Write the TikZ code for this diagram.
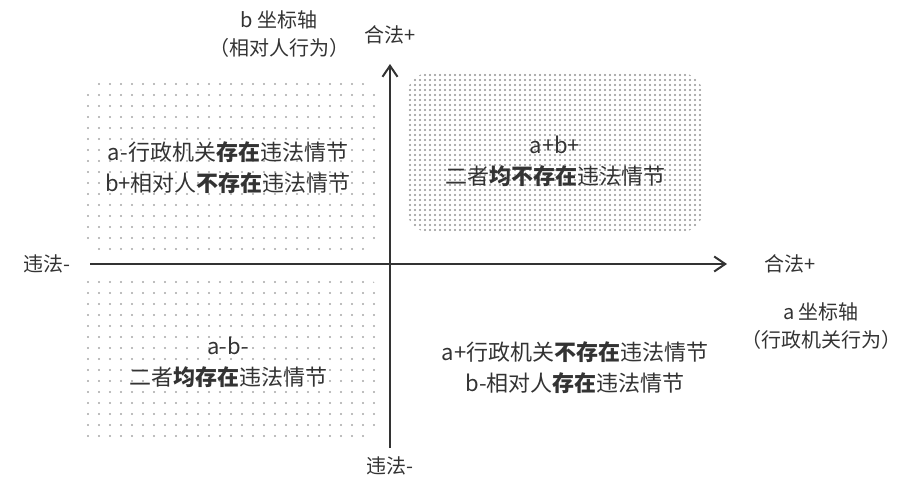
\documentclass[tikz,border=0pt]{standalone}
\usepackage{fontspec}
\setmainfont{Noto Sans CJK SC}
\usetikzlibrary{arrows.meta,patterns.meta}
\definecolor{ink}{HTML}{333333}
\tikzset{
  lbl/.style={text=ink,font=\fontsize{22}{31}\selectfont,align=center,inner sep=0pt},
  axlbl/.style={lbl,font=\fontsize{20}{28}\selectfont},
  zone/.style={rounded corners=22pt},
  axis/.style={draw=ink,line width=2.4pt,-{Straight Barb[length=11pt,width=15pt,line width=2pt]}}
}
\begin{document}
\begin{tikzpicture}[x=1pt,y=-1pt]
    \useasboundingbox (0,0) rectangle (906,480);

    % dotted quadrants
    \fill[zone,pattern={Dots[distance=11pt,radius=1.1pt]},pattern color=gray!70] (79,82) rectangle (378,251);
    \fill[zone,pattern={Dots[distance=5pt,radius=1.2pt]},pattern color=gray!85] (407,73) rectangle (703,232);
    \fill[zone,pattern={Dots[distance=11pt,radius=1.1pt]},pattern color=gray!70] (79,273) rectangle (378,443);

    % axes
    \coordinate (xl) at (90,264);
    \coordinate (xr) at (727,264);
    \coordinate (yb) at (390,448);
    \coordinate (yt) at (390,64);
    \draw[axis] (xl) -- (xr);
    \draw[axis] (yb) -- (yt);

    % axis labels
    \node[axlbl] (bax) at (279,34) {b 坐标轴\\（相对人行为）};
    \node[axlbl] (ytop) at (390,35) {合法+};
    \node[axlbl] (ybot) at (390,466) {违法-};
    \node[axlbl] (xleft) at (47,264) {违法-};
    \node[axlbl] (xright) at (790,264) {合法+};
    \node[axlbl] (aax) at (821,326) {a 坐标轴\\（行政机关行为）};

    % quadrant texts
    \node[lbl] (q2) at (228,168) {a-行政机关\textbf{存在}违法情节\\b+相对人\textbf{不存在}违法情节};
    \node[lbl] (q1) at (555,161) {a+b+\\二者\textbf{均不存在}违法情节};
    \node[lbl] (q3) at (228,362) {a-b-\\二者\textbf{均存在}违法情节};
    \node[lbl] (q4) at (575,368) {a+行政机关\textbf{不存在}违法情节\\b-相对人\textbf{存在}违法情节};
\end{tikzpicture}
\end{document}
